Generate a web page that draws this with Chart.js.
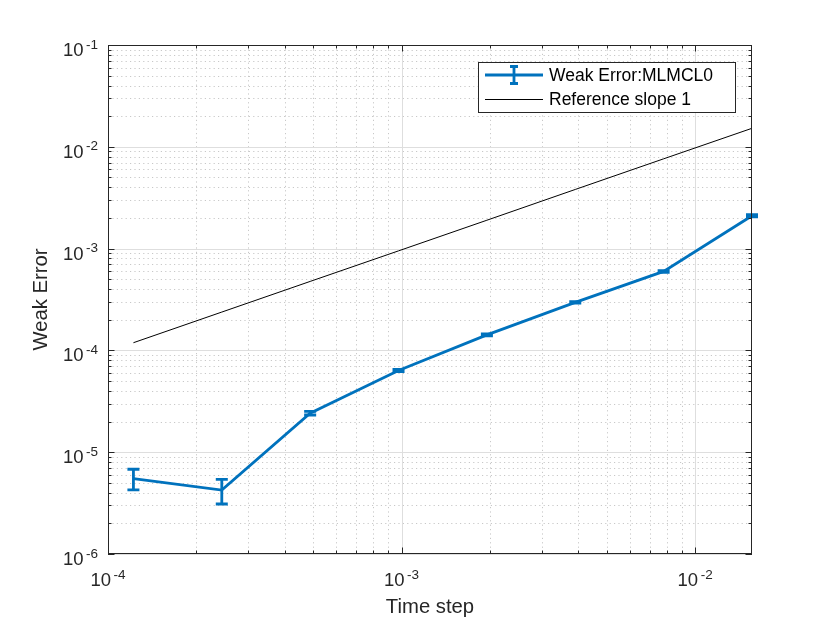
<!DOCTYPE html>
<html>
<head>
<meta charset="utf-8">
<script src="https://cdn.jsdelivr.net/npm/chart.js@4.4.1/dist/chart.umd.min.js"></script>
<style>
  html, body { margin: 0; padding: 0; background: #fff; }
  #wrap { width: 830px; height: 623px; }
</style>
</head>
<body>
<div id="wrap"><canvas id="errChart" width="830" height="623"></canvas></div>
<script>
// values
const timeSteps = [1.2207e-4, 2.4414e-4, 4.8828e-4, 9.7656e-4, 1.9531e-3, 3.9063e-3, 7.8125e-3, 1.5625e-2];
const weakError = [5.5e-6, 4.25e-6, 2.42e-5, 6.35e-5, 1.42e-4, 2.96e-4, 5.97e-4, 2.10e-3];
const errLow    = [4.26e-6, 3.1e-6, 2.32e-5, 6.18e-5, 1.39e-4, 2.91e-4, 5.86e-4, 2.05e-3];
const errHigh   = [6.8e-6, 5.42e-6, 2.52e-5, 6.52e-5, 1.45e-4, 3.01e-4, 6.08e-4, 2.15e-3];
const refSlope  = [1.19e-4, 2.38e-4, 4.76e-4, 9.5e-4, 1.9e-3, 3.81e-3, 7.62e-3, 1.52e-2];

const xTickExps = [-4, -3, -2];
const yTickExps = [-6, -5, -4, -3, -2, -1];
const xRange = [1e-4, 1.5625e-2];
const yRange = [1e-6, 1e-1];

const blue = '#0072BD';
const axisColor = '#262626';
const FONT = '"Liberation Sans", Arial, Helvetica, sans-serif';

function decadeValues(min, max) {
    const out = [];
    const e0 = Math.floor(Math.log10(min) + 1e-9);
    const e1 = Math.ceil(Math.log10(max) - 1e-9);
    for (let e = e0; e <= e1; e++) {
        for (let m = 1; m <= 9; m++) {
            const v = m * Math.pow(10, e);
            if (v >= min * 0.9999 && v <= max * 1.0001) out.push({ v, major: m === 1 });
        }
    }
    return out;
}

function drawPow(ctx, exp, x, baseline, align) {
    ctx.font = '18.5px ' + FONT;
    const wBase = ctx.measureText('10').width;
    ctx.font = '13.5px ' + FONT;
    const sup = '-' + Math.abs(exp);
    const wSup = ctx.measureText(sup).width;
    const gap = 2.5;
    const total = wBase + gap + wSup;
    let start = align === 'center' ? x - total / 2 : x - total;
    ctx.textAlign = 'left';
    ctx.textBaseline = 'alphabetic';
    ctx.fillStyle = axisColor;
    ctx.font = '18.5px ' + FONT;
    ctx.fillText('10', start, baseline);
    ctx.font = '13.5px ' + FONT;
    ctx.fillText(sup, start + wBase + gap, baseline - 7.5);
}

const gridPlugin = {
    id: 'matlabGrid',
    beforeDatasetsDraw(chart) {
        const { ctx, chartArea: a, scales: { x, y } } = chart;
        ctx.save();
        ctx.lineWidth = 1;
        // minor dotted
        ctx.strokeStyle = '#c8c8c8';
        ctx.setLineDash([1.2, 3.2]);
        decadeValues(xRange[0], xRange[1]).filter(t => !t.major).forEach(t => {
            const px = Math.round(x.getPixelForValue(t.v)) + 0.5;
            ctx.beginPath(); ctx.moveTo(px, a.top); ctx.lineTo(px, a.bottom); ctx.stroke();
        });
        decadeValues(yRange[0], yRange[1]).filter(t => !t.major).forEach(t => {
            const py = Math.round(y.getPixelForValue(t.v)) + 0.5;
            ctx.beginPath(); ctx.moveTo(a.left, py); ctx.lineTo(a.right, py); ctx.stroke();
        });
        // major solid
        ctx.setLineDash([]);
        ctx.strokeStyle = '#dedede';
        decadeValues(xRange[0], xRange[1]).filter(t => t.major).forEach(t => {
            const px = Math.round(x.getPixelForValue(t.v)) + 0.5;
            ctx.beginPath(); ctx.moveTo(px, a.top); ctx.lineTo(px, a.bottom); ctx.stroke();
        });
        decadeValues(yRange[0], yRange[1]).filter(t => t.major).forEach(t => {
            const py = Math.round(y.getPixelForValue(t.v)) + 0.5;
            ctx.beginPath(); ctx.moveTo(a.left, py); ctx.lineTo(a.right, py); ctx.stroke();
        });
        ctx.restore();
    },
    afterDatasetsDraw(chart) {
        const { ctx, chartArea: a, scales: { x, y } } = chart;
        ctx.save();
        // error bars
        ctx.strokeStyle = blue;
        ctx.lineWidth = 2.8;
        ctx.lineCap = 'butt';
        timeSteps.forEach((t, i) => {
            const px = x.getPixelForValue(t);
            const lo = y.getPixelForValue(errLow[i]);
            const hi = y.getPixelForValue(errHigh[i]);
            ctx.beginPath();
            ctx.moveTo(px, lo); ctx.lineTo(px, hi);
            ctx.moveTo(px - 6, lo); ctx.lineTo(px + 6, lo);
            ctx.moveTo(px - 6, hi); ctx.lineTo(px + 6, hi);
            ctx.stroke();
        });

        // box and ticks
        ctx.strokeStyle = axisColor;
        ctx.lineWidth = 1;
        ctx.strokeRect(a.left + 0.5, a.top + 0.5, a.right - a.left - 1, a.bottom - a.top - 1);
        decadeValues(xRange[0], xRange[1]).forEach(t => {
            const px = Math.round(x.getPixelForValue(t.v)) + 0.5;
            const len = t.major ? 6.5 : 3.5;
            ctx.beginPath();
            ctx.moveTo(px, a.bottom); ctx.lineTo(px, a.bottom - len);
            ctx.moveTo(px, a.top); ctx.lineTo(px, a.top + len);
            ctx.stroke();
        });
        decadeValues(yRange[0], yRange[1]).forEach(t => {
            const py = Math.round(y.getPixelForValue(t.v)) + 0.5;
            const len = t.major ? 6.5 : 3.5;
            ctx.beginPath();
            ctx.moveTo(a.left, py); ctx.lineTo(a.left + len, py);
            ctx.moveTo(a.right, py); ctx.lineTo(a.right - len, py);
            ctx.stroke();
        });

        // tick labels
        xTickExps.forEach(e => {
            drawPow(ctx, e, x.getPixelForValue(Math.pow(10, e)), a.bottom + 32, 'center');
        });
        yTickExps.forEach(e => {
            drawPow(ctx, e, a.left - 10, y.getPixelForValue(Math.pow(10, e)) + 11, 'right');
        });

        // axis titles
        ctx.fillStyle = axisColor;
        ctx.font = '20.3px ' + FONT;
        ctx.textAlign = 'center';
        ctx.textBaseline = 'alphabetic';
        ctx.fillText('Time step', (a.left + a.right) / 2, 613);
        ctx.translate(47, (a.top + a.bottom) / 2);
        ctx.rotate(-Math.PI / 2);
        ctx.fillText('Weak Error', 0, 0);
        ctx.restore();

        // legend
        ctx.save();
        const L = { left: 478.5, top: 62.5, right: 735.5, bottom: 112.5 };
        ctx.fillStyle = '#fff';
        ctx.fillRect(L.left, L.top, L.right - L.left, L.bottom - L.top);
        ctx.strokeStyle = axisColor;
        ctx.lineWidth = 1;
        ctx.strokeRect(L.left, L.top, L.right - L.left, L.bottom - L.top);
        const rows = [75, 99.5];
        const ds = chart.data.datasets;
        // row 1: line with error bar glyph
        ctx.strokeStyle = blue;
        ctx.lineWidth = 2.8;
        ctx.beginPath();
        ctx.moveTo(485, rows[0]); ctx.lineTo(543, rows[0]);
        ctx.moveTo(514, rows[0] - 8.5); ctx.lineTo(514, rows[0] + 8.5);
        ctx.moveTo(510, rows[0] - 8.5); ctx.lineTo(518, rows[0] - 8.5);
        ctx.moveTo(510, rows[0] + 8.5); ctx.lineTo(518, rows[0] + 8.5);
        ctx.stroke();
        // row 2: thin black
        ctx.strokeStyle = '#000';
        ctx.lineWidth = 1;
        ctx.beginPath();
        ctx.moveTo(485, rows[1]); ctx.lineTo(543, rows[1]);
        ctx.stroke();
        ctx.fillStyle = '#000';
        ctx.font = '17.5px ' + FONT;
        ctx.textAlign = 'left';
        ctx.textBaseline = 'middle';
        ctx.fillText(ds[0].label, 549, rows[0] + 1);
        ctx.fillText(ds[1].label, 549, rows[1] + 1);
        ctx.restore();
    }
};

new Chart(document.getElementById('errChart').getContext('2d'), {
    type: 'line',
    data: {
        datasets: [{
            label: 'Weak Error:MLMCL0',
            data: timeSteps.map((t, i) => ({ x: t, y: weakError[i] })),
            borderColor: blue,
            borderWidth: 2.8,
            pointRadius: 0,
            tension: 0,
            clip: false
        }, {
            label: 'Reference slope 1',
            data: timeSteps.map((t, i) => ({ x: t, y: refSlope[i] })),
            borderColor: '#000',
            borderWidth: 1,
            pointRadius: 0,
            tension: 0
        }]
    },
    options: {
        responsive: false,
        devicePixelRatio: 1,
        animation: false,
        layout: { padding: { left: 108, top: 45, right: 78, bottom: 69 } },
        plugins: { legend: { display: false }, tooltip: { enabled: false } },
        scales: {
            x: { type: 'logarithmic', min: xRange[0], max: xRange[1], display: false },
            y: { type: 'logarithmic', min: yRange[0], max: yRange[1], display: false }
        }
    },
    plugins: [gridPlugin]
});
</script>
</body>
</html>
